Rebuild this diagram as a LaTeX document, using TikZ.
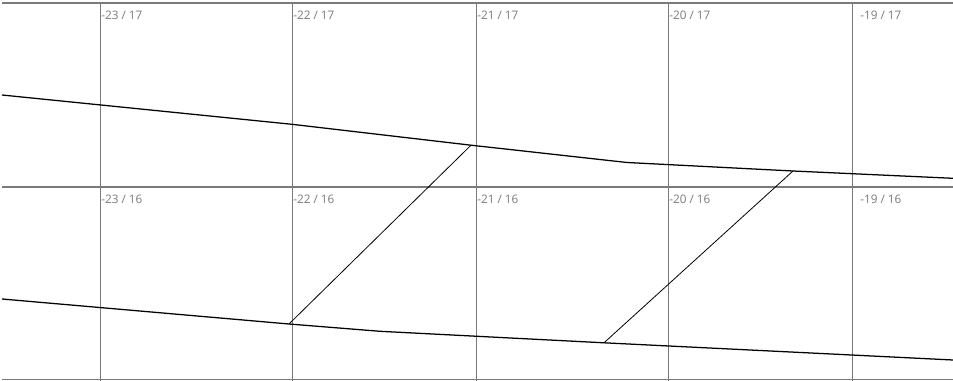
\documentclass[tikz,border=0pt]{standalone}
\usepackage{fontspec}
\setmainfont{Open Sans}
\begin{document}
\begin{tikzpicture}[x=0.75pt,y=-0.75pt,
  gridline/.style={draw=black!52,line width=1.2pt},
  bandline/.style={draw=black,line width=0.95pt,line join=round},
  tie/.style={draw=black,line width=0.6pt},
  lbl/.style={anchor=base west,inner sep=0pt,text=black!52,font=\fontsize{8.8}{10}\selectfont}]
\useasboundingbox (0,0) rectangle (953,381);
% grid
\foreach \yy in {3,187,379.5} \draw[gridline] (2,\yy) -- (953,\yy);
\foreach \xx in {100.5,292.5,476.5,668.5,852.5} \draw[gridline] (\xx,3) -- (\xx,381);
% labels
\node[lbl] (l1) at (101,19.5) {-23 / 17};
\node[lbl] (l2) at (293,19.5) {-22 / 17};
\node[lbl] (l3) at (477,19.5) {-21 / 17};
\node[lbl] (l4) at (669,19.5) {-20 / 17};
\node[lbl] (l5) at (860,19.5) {-19 / 17};
\node[lbl] (m1) at (101,204) {-23 / 16};
\node[lbl] (m2) at (293,204) {-22 / 16};
\node[lbl] (m3) at (477,204) {-21 / 16};
\node[lbl] (m4) at (669,204) {-20 / 16};
\node[lbl] (m5) at (860,204) {-19 / 16};
% upper band
\coordinate (u0) at (2,95);
\coordinate (u1) at (292,124.3);
\coordinate (ua) at (471,145.2);
\coordinate (u2) at (627,162.5);
\coordinate (ub) at (793,171);
\coordinate (u3) at (953,178.3);
\draw[bandline] (u0) -- (u1) -- (ua) -- (u2) -- (ub) -- (u3);
% lower band
\coordinate (d0) at (2,299);
\coordinate (da) at (289,324);
\coordinate (d1) at (380,331.3);
\coordinate (db) at (604,342.8);
\coordinate (d2) at (953,360);
\draw[bandline] (d0) -- (da) -- (d1) -- (db) -- (d2);
% ties
\draw[tie] (da) -- (ua);
\draw[tie] (db) -- (ub);
\end{tikzpicture}
\end{document}
